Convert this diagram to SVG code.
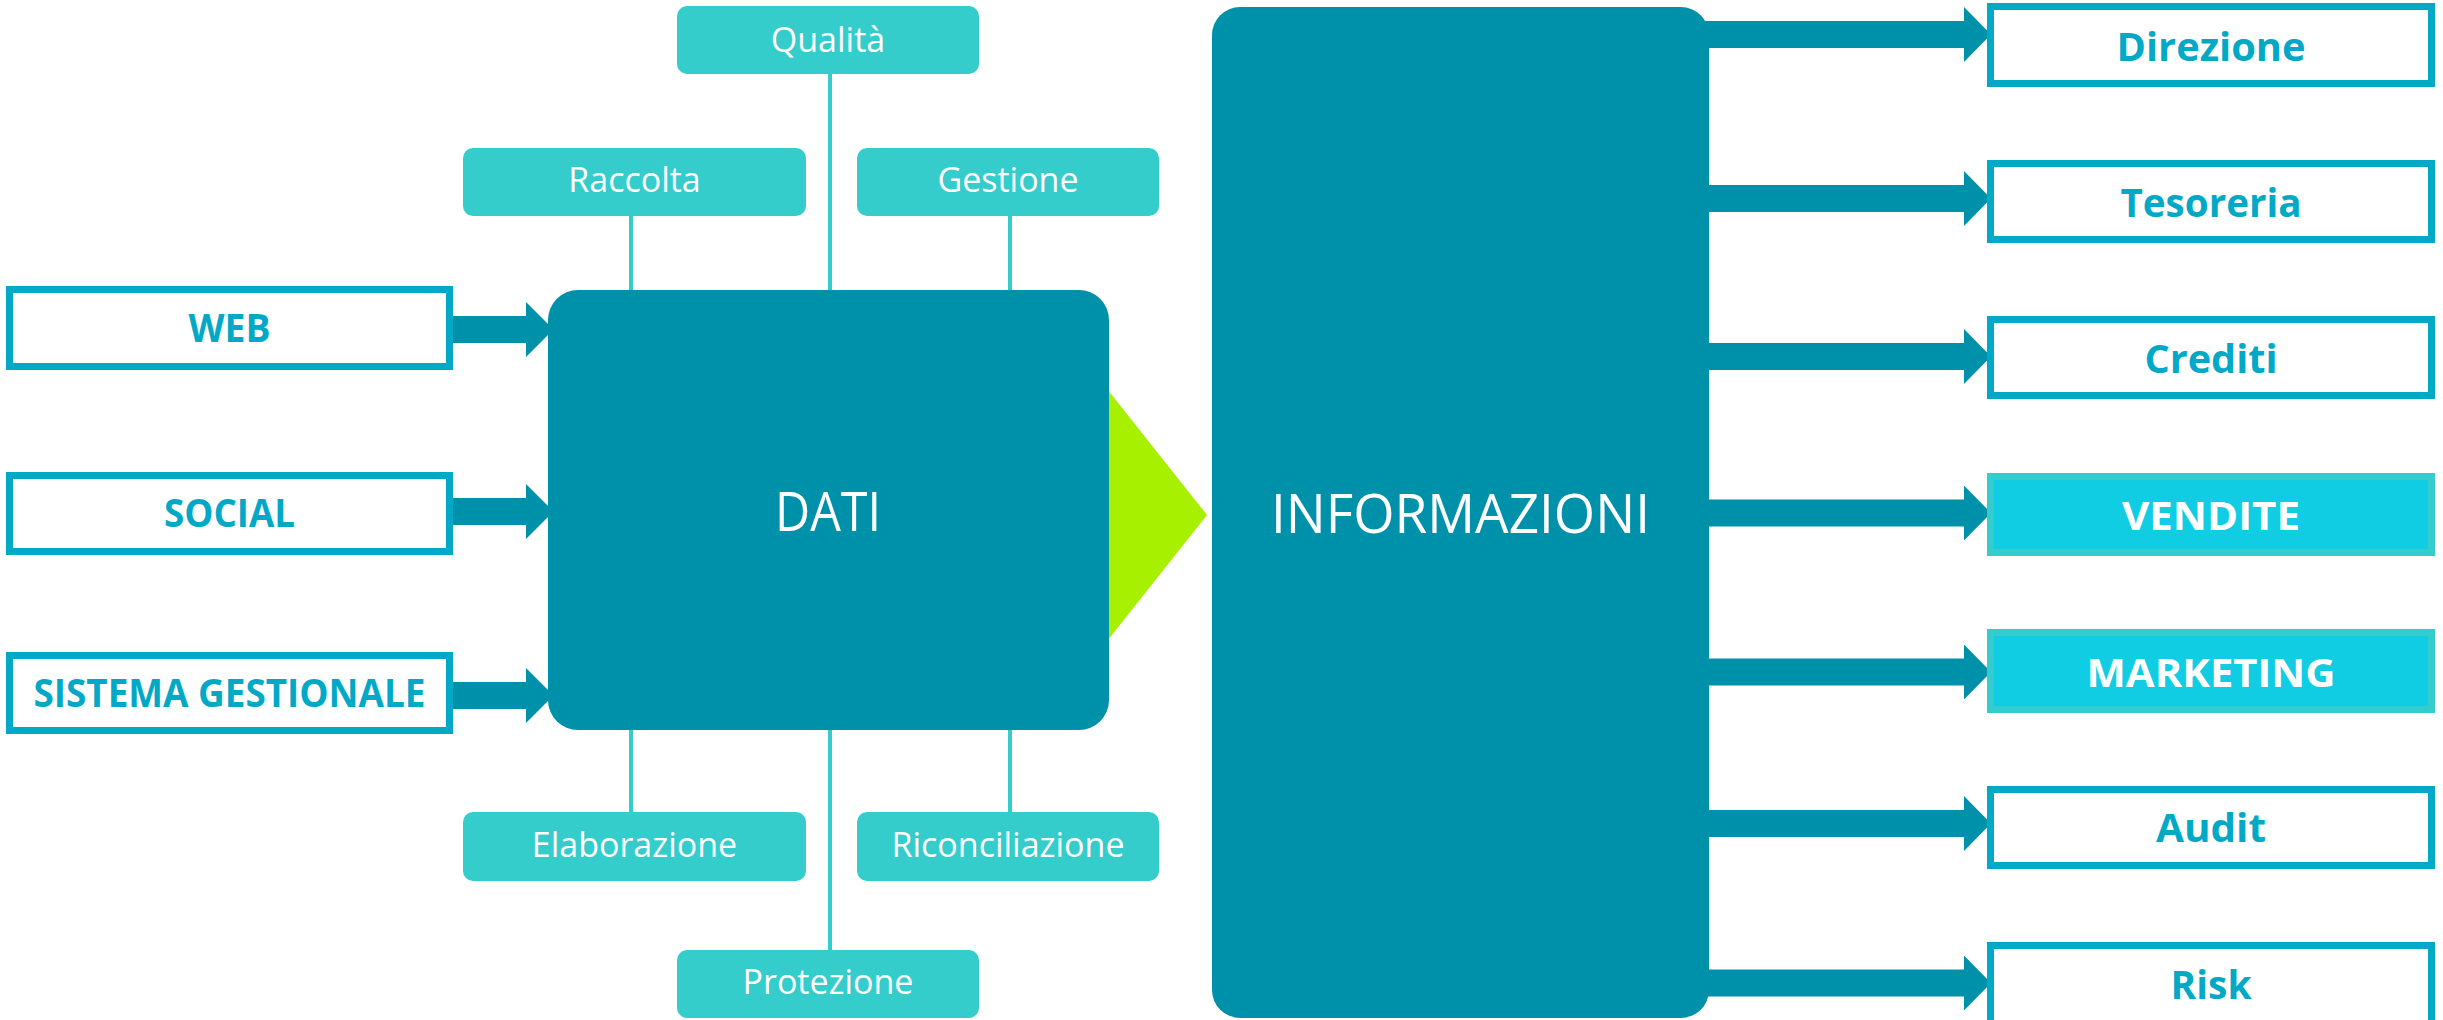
<svg xmlns="http://www.w3.org/2000/svg" width="2443" height="1020" viewBox="0 0 2443 1020">
<defs>
<style>
.arrow{fill:#0091AA}
.line{stroke:#35CCCC;stroke-width:4;fill:none}
.tbox{fill:#35CCCC}
.tlabel{font-family:"Open Sans","Noto Sans",sans-serif;font-size:34px;fill:#ffffff;text-anchor:middle}
.obox{fill:#ffffff;stroke:#02A9C7;stroke-width:7}
.hbox{fill:#10CDE4;stroke:#34CCCC;stroke-width:7}
.olabel{font-family:"Open Sans","Noto Sans",sans-serif;font-weight:700;font-size:39px;fill:#02A9C7;text-anchor:middle}
.hlabel{font-family:"Open Sans","Noto Sans",sans-serif;font-weight:700;font-size:39px;fill:#ffffff;text-anchor:middle}
.big{fill:#0091AA}
.biglabel{font-family:"Open Sans","Noto Sans",sans-serif;font-size:54px;fill:#ffffff;text-anchor:middle}
</style>
</defs>
<rect width="2443" height="1020" fill="#ffffff"/>

<g id="connectors">
<!-- left arrows -->
<polygon class="arrow" points="453,316 526,316 526,302 553.5,329.5 526,357 526,343 453,343"/>
<polygon class="arrow" points="453,498 526,498 526,484 553.5,511.5 526,539 526,525 453,525"/>
<polygon class="arrow" points="453,682 526,682 526,668 553.5,695.5 526,723 526,709 453,709"/>
<!-- teal lines -->
<line class="line" x1="830" y1="74" x2="830" y2="292"/>
<line class="line" x1="631" y1="216" x2="631" y2="292"/>
<line class="line" x1="1010" y1="216" x2="1010" y2="292"/>
<line class="line" x1="631" y1="728" x2="631" y2="812"/>
<line class="line" x1="830" y1="728" x2="830" y2="950"/>
<line class="line" x1="1010" y1="728" x2="1010" y2="812"/>
<!-- green triangle -->
<polygon fill="#A6F000" points="1100,380 1207,515 1100,650"/>
<!-- right arrows -->
<polygon class="arrow" points="1700,21 1964,21 1964,7 1991,34.5 1964,62 1964,48 1700,48"/>
<polygon class="arrow" points="1700,185 1964,185 1964,171 1991,198.5 1964,226 1964,212 1700,212"/>
<polygon class="arrow" points="1700,343 1964,343 1964,329 1991,356.5 1964,384 1964,370 1700,370"/>
<polygon class="arrow" points="1700,499.5 1964,499.5 1964,485.5 1991,513 1964,540.5 1964,526.5 1700,526.5"/>
<polygon class="arrow" points="1700,658.5 1964,658.5 1964,644.5 1991,672 1964,699.5 1964,685.5 1700,685.5"/>
<polygon class="arrow" points="1700,810 1964,810 1964,796 1991,823.5 1964,851 1964,837 1700,837"/>
<polygon class="arrow" points="1700,969.5 1964,969.5 1964,955.5 1991,983 1964,1010.5 1964,996.5 1700,996.5"/>
</g>

<g id="dati">
<rect class="big" x="548" y="290" width="561" height="440" rx="30"/>
<text class="biglabel" x="828" y="531" textLength="106" lengthAdjust="spacingAndGlyphs">DATI</text>
</g>

<g id="informazioni">
<rect class="big" x="1212" y="7" width="497" height="1011" rx="28"/>
<text class="biglabel" x="1460.5" y="533" textLength="379" lengthAdjust="spacingAndGlyphs">INFORMAZIONI</text>
</g>

<g id="qualita">
<rect class="tbox" x="677" y="6" width="302" height="68" rx="10"/>
<text class="tlabel" x="828" y="52">Qualità</text>
</g>
<g id="raccolta">
<rect class="tbox" x="463" y="148" width="343" height="68" rx="10"/>
<text class="tlabel" x="634.5" y="192">Raccolta</text>
</g>
<g id="gestione">
<rect class="tbox" x="857" y="148" width="302" height="68" rx="10"/>
<text class="tlabel" x="1008" y="192">Gestione</text>
</g>
<g id="elaborazione">
<rect class="tbox" x="463" y="812" width="343" height="69" rx="10"/>
<text class="tlabel" x="634.5" y="857">Elaborazione</text>
</g>
<g id="riconciliazione">
<rect class="tbox" x="857" y="812" width="302" height="69" rx="10"/>
<text class="tlabel" x="1008" y="857">Riconciliazione</text>
</g>
<g id="protezione">
<rect class="tbox" x="677" y="950" width="302" height="68" rx="10"/>
<text class="tlabel" x="828" y="994">Protezione</text>
</g>

<g id="web">
<rect class="obox" x="9.5" y="289.5" width="440" height="77"/>
<text class="olabel" x="229.5" y="342" font-size="37" textLength="82" lengthAdjust="spacingAndGlyphs">WEB</text>
</g>
<g id="social">
<rect class="obox" x="9.5" y="475.5" width="440" height="76"/>
<text class="olabel" x="229.5" y="527" font-size="37" textLength="131" lengthAdjust="spacingAndGlyphs">SOCIAL</text>
</g>
<g id="sistema-gestionale">
<rect class="obox" x="9.5" y="655.5" width="440" height="75"/>
<text class="olabel" x="229.5" y="707" font-size="37" textLength="392" lengthAdjust="spacingAndGlyphs">SISTEMA GESTIONALE</text>
</g>

<g id="direzione">
<rect class="obox" x="1990.5" y="6.5" width="441" height="77"/>
<text class="olabel" x="2211" y="61" textLength="189" lengthAdjust="spacingAndGlyphs">Direzione</text>
</g>
<g id="tesoreria">
<rect class="obox" x="1990.5" y="163.5" width="441" height="76"/>
<text class="olabel" x="2211" y="217" textLength="181" lengthAdjust="spacingAndGlyphs">Tesoreria</text>
</g>
<g id="crediti">
<rect class="obox" x="1990.5" y="319.5" width="441" height="76"/>
<text class="olabel" x="2211" y="373" textLength="133" lengthAdjust="spacingAndGlyphs">Crediti</text>
</g>
<g id="vendite">
<rect class="hbox" x="1990.5" y="476.5" width="441" height="76"/>
<text class="hlabel" x="2211" y="530" textLength="178" lengthAdjust="spacingAndGlyphs">VENDITE</text>
</g>
<g id="marketing">
<rect class="hbox" x="1990.5" y="632.5" width="441" height="77"/>
<text class="hlabel" x="2211" y="687" textLength="249" lengthAdjust="spacingAndGlyphs">MARKETING</text>
</g>
<g id="audit">
<rect class="obox" x="1990.5" y="789.5" width="441" height="76"/>
<text class="olabel" x="2211" y="842" textLength="110" lengthAdjust="spacingAndGlyphs">Audit</text>
</g>
<g id="risk">
<rect class="obox" x="1990.5" y="945.5" width="441" height="80"/>
<text class="olabel" x="2211" y="999" textLength="81" lengthAdjust="spacingAndGlyphs">Risk</text>
</g>
</svg>
